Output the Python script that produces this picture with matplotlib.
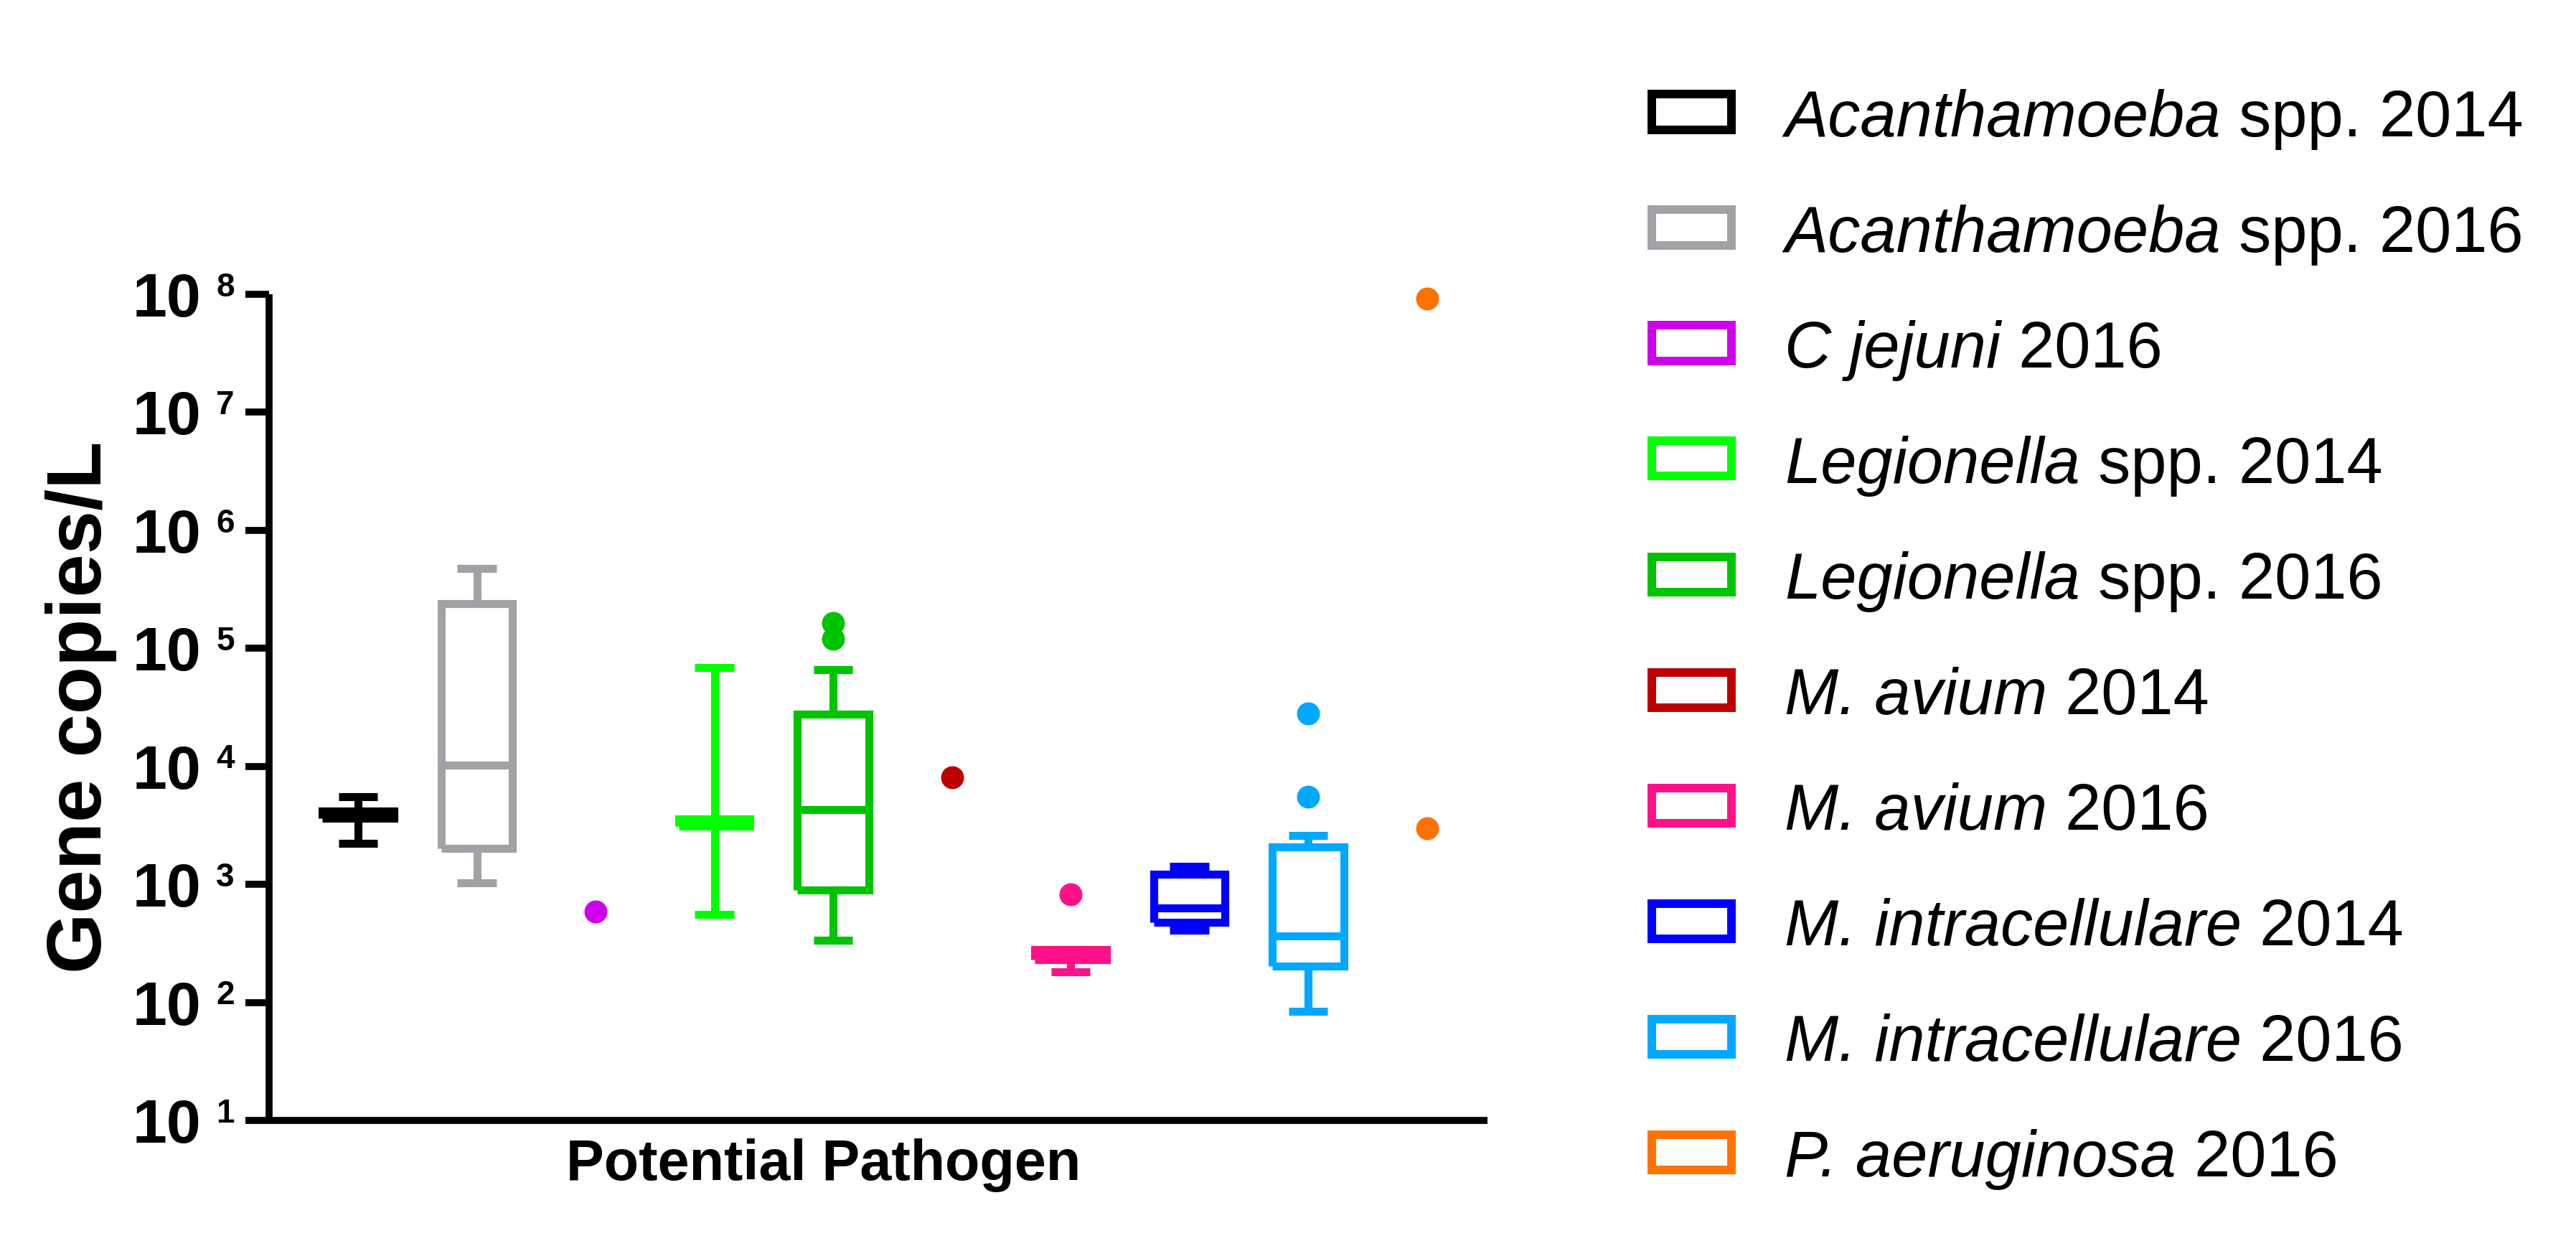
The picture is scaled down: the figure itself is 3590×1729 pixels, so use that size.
import numpy as np
import matplotlib
matplotlib.use("Agg")
import matplotlib.pyplot as plt
from matplotlib import font_manager
from matplotlib.patches import Rectangle
from matplotlib.ticker import FixedLocator, FuncFormatter, NullLocator

plt.rcParams["font.family"] = ["Liberation Sans", "DejaVu Sans"]

# series: italic part of the name, plain suffix, colour
names_it = ["Acanthamoeba", "Acanthamoeba", "C jejuni", "Legionella", "Legionella",
            "M. avium", "M. avium", "M. intracellulare", "M. intracellulare", "P. aeruginosa"]
names_rest = [" spp. 2014", " spp. 2016", " 2016", " spp. 2014", " spp. 2016",
              " 2014", " 2016", " 2014", " 2016", " 2016"]
colors = ["#000000", "#A2A2A6", "#CF00EC", "#00FF00", "#00C400",
          "#BC0000", "#FF1187", "#0000FF", "#00A8FF", "#FF7200"]

# box statistics (gene copies/L); nan = no box, only points
whis_lo = [2230, 1030, np.nan, 558, 334, np.nan, 181, 408, 84, np.nan]
q1 = [3640, 2005, np.nan, 3100, 897, np.nan, 229, 474, 203, np.nan]
med = [3900, 10200, np.nan, 3340, 4280, np.nan, 254, 632, 365, np.nan]
q3 = [4180, 240000, np.nan, 3600, 27600, np.nan, 282, 1211, 2075, np.nan]
whis_hi = [5550, 472000, np.nan, 68700, 66000, np.nan, 282, 1426, 2600, np.nan]
# outliers / single measurements
points = [[], [], [585], [], [165000, 120000], [8110], [822], [], [28250, 5570],
          [92000000, 2980]]

W, H = 3591, 1729
fig = plt.figure(figsize=(W / 100, H / 100), dpi=100)
ax = fig.add_axes([375 / W, 1 - 1561 / H, (2073 - 375) / W, (1561 - 410) / H])

LW = 8.0
for i, c in enumerate(colors):
    pos = i + 1
    if not np.isnan(med[i]):
        st = dict(med=med[i], q1=q1[i], q3=q3[i], whislo=whis_lo[i], whishi=whis_hi[i],
                  fliers=points[i])
        line = dict(color=c, linewidth=LW, solid_capstyle="butt", solid_joinstyle="miter")
        ax.bxp([st], positions=[pos], widths=0.6, capwidths=0.33, showfliers=True,
               boxprops=line, whiskerprops=line, capprops=line, medianprops=line,
               flierprops=dict(marker="o", markerfacecolor=c, markeredgecolor=c,
                               markersize=22, linestyle="none"))
    else:
        ax.plot([pos] * len(points[i]), points[i], "o", color=c, ms=22,
                linestyle="none", clip_on=False)

ax.set_yscale("log")
ax.set_ylim(10, 1e8)
ax.set_xlim(0.25, 10.51)
decades = [10.0 ** k for k in range(1, 9)]
ax.yaxis.set_major_locator(FixedLocator(decades))
ax.yaxis.set_minor_locator(NullLocator())
ax.yaxis.set_major_formatter(FuncFormatter(lambda v, p: "10"))
ax.set_xticks([])
for s in ["top", "right"]:
    ax.spines[s].set_visible(False)
for s in ["left", "bottom"]:
    ax.spines[s].set_linewidth(7.0)
    ax.spines[s].set_capstyle("butt")
ax.tick_params(axis="y", length=24, width=7.0, pad=44, labelsize=62)
for lab in ax.get_yticklabels():
    lab.set_fontweight("bold")
for k in range(1, 9):
    ax.annotate(str(k), xy=(0, 10.0 ** k), xycoords=ax.get_yaxis_transform(),
                xytext=(-53, -2), textcoords="offset points", ha="left", va="baseline",
                fontsize=33, fontweight="bold", annotation_clip=False)

ax.set_ylabel("Gene copies/L", fontsize=78, fontweight="bold")
ax.yaxis.set_label_coords(-0.125, 0.5)

# x title is set in a condensed face in the original
installed = {f.name for f in font_manager.fontManager.ttflist}
if "Liberation Sans Narrow" in installed:
    xl_family, xl_size = ["Liberation Sans Narrow", "Liberation Sans"], 66
else:
    xl_family, xl_size = ["Liberation Sans", "DejaVu Sans"], 57
ax.set_xlabel("Potential Pathogen", fontsize=xl_size, fontweight="bold", family=xl_family)
ax.xaxis.set_label_coords(0.455, -0.022)
ax.xaxis.label.set_va("top")

# legend keys and labels
for i, c in enumerate(colors):
    yc = 156 + 161 * i
    fig.add_artist(Rectangle((2302 / W, 1 - (yc + 24.5) / H), 111 / W, 49 / H,
                             transform=fig.transFigure, facecolor="white", edgecolor=c,
                             linewidth=8.6, joinstyle="miter"))
    t = fig.text(2487 / W, 1 - (yc + 34) / H, names_it[i], fontsize=65, style="italic",
                 va="baseline", ha="left")
    ax.annotate(names_rest[i], xy=(1, 0), xycoords=t, fontsize=65, va="bottom",
                ha="left", annotation_clip=False)

fig.savefig("out.png", dpi=100)
